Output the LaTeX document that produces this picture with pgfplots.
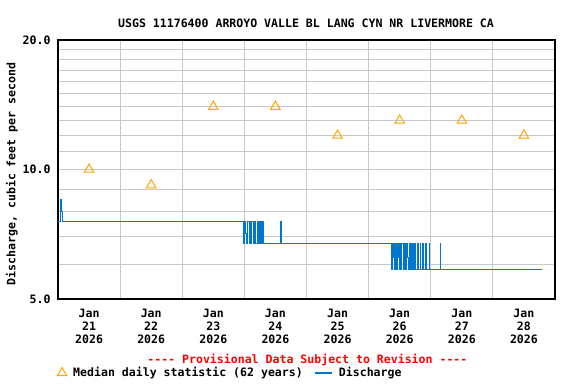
\documentclass[border=0pt]{standalone}
\usepackage{fontspec}
\setmainfont{DejaVu Sans Mono}
\setmonofont{DejaVu Sans Mono}
\usepackage{pgfplots}
\pgfplotsset{compat=1.18}
\definecolor{qblue}{RGB}{0,119,204}
\definecolor{qorange}{RGB}{255,165,0}
\definecolor{qgrid}{RGB}{200,200,200}
\newcommand\cf{\fontsize{11.6}{13}\selectfont\ttfamily\bfseries}
\begin{document}
\begin{tikzpicture}
\path[use as bounding box] (0,0) rectangle (576bp,384bp);
\begin{axis}[
  at={(58bp,85bp)}, anchor=south west,
  scale only axis, width=497bp, height=259bp,
  ymode=log, xmin=0, xmax=8, ymin=5, ymax=20,
  axis line style={line width=1.2bp, black},
  xtick={0.5,1.5,2.5,3.5,4.5,5.5,6.5,7.5},
  xticklabels={Jan\\21\\2026,Jan\\22\\2026,Jan\\23\\2026,Jan\\24\\2026,Jan\\25\\2026,Jan\\26\\2026,Jan\\27\\2026,Jan\\28\\2026},
  minor xtick={1,2,3,4,5,6,7},
  ytick={5,10,20}, yticklabels={5.0,10.0,20.0},
  minor ytick={6,7,8,9,11,12,13,14,15,16,17,18,19},
  major tick length=0pt, minor tick length=0pt,
  xmajorgrids=false, xminorgrids=true,
  ymajorgrids=true, yminorgrids=true,
  grid style={qgrid, line width=1bp},
  minor grid style={qgrid, line width=1bp},
  xticklabel style={align=center, font=\cf, yshift=-7bp},
  yticklabel style={font=\cf, xshift=-4bp},
  /pgf/number format/assume math mode=true,
  legend style={at={(-0.008,-0.2857)}, anchor=west, draw=none, fill=none,
    font=\cf, legend columns=2,
    /tikz/every odd column/.append style={column sep=4.5bp},
    /tikz/every even column/.append style={column sep=9.5bp}},
  legend cell align=left,
]
\addplot[only marks, mark=triangle, mark size=5.5bp, mark options={draw=qorange, fill=none, line width=1bp}]
  coordinates {(0.5,10.0)(1.5,9.2)(2.5,14.0)(3.5,14.0)(4.5,12.0)(5.5,13.0)(6.5,13.0)(7.5,12.0)};
\addlegendentry{Median daily statistic (62 years)}
\addplot[const plot, qblue, line width=1.1bp, mark=none] coordinates {
(0,7.58)(0.045,8.5)(0.055,8.0)(0.07,7.58)
(2.984,6.72)(2.994,7.58)(3.025,7.1)(3.035,6.72)(3.056,7.58)(3.077,6.72)(3.088,7.58)(3.098,6.72)(3.119,7.58)(3.140,7.1)(3.150,6.72)(3.161,7.58)(3.181,6.72)(3.213,7.58)(3.223,6.72)(3.244,7.58)(3.254,6.72)(3.265,7.58)(3.275,6.72)(3.300,7.58)(3.310,6.72)
(3.575,7.1)(3.585,7.58)(3.595,6.72)
(5.370,5.86)(5.380,6.72)(5.391,6.23)(5.401,6.72)(5.411,5.86)(5.432,6.72)(5.453,5.86)(5.463,6.72)(5.484,6.23)(5.495,5.86)(5.505,6.72)(5.526,5.86)(5.536,6.72)(5.557,5.86)(5.578,6.72)(5.599,5.86)(5.609,6.72)(5.630,6.23)(5.641,5.86)(5.651,6.72)(5.672,5.86)(5.693,6.72)(5.714,5.86)(5.745,6.72)(5.755,5.86)(5.786,6.72)(5.797,5.86)(5.828,6.72)(5.838,5.86)(5.870,6.72)(5.880,5.86)(5.922,6.72)(5.932,5.86)(5.974,6.72)(5.984,5.86)
(6.150,6.72)(6.160,5.86)(7.785,5.86)};
\addlegendentry{Discharge}
\end{axis}
\node[anchor=base, font=\cf] at (306bp,356bp) {USGS 11176400 ARROYO VALLE BL LANG CYN NR LIVERMORE CA};
\node[anchor=base, font=\cf, rotate=90] at (15.3bp,210bp) {Discharge, cubic feet per second};
\node[anchor=base, font=\cf, text=red] at (307.4bp,20.8bp) {---- Provisional Data Subject to Revision ----};
\end{tikzpicture}
\end{document}
